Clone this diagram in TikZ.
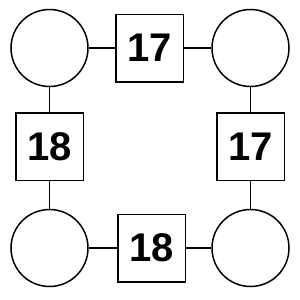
\documentclass[tikz,border=0pt]{standalone}
\usepackage{fontspec}
\setmainfont{Liberation Sans}
\begin{document}
\begin{tikzpicture}[x=1pt,y=-1pt,
  circ/.style={draw,circle,line width=1.5pt,minimum size=77pt,inner sep=0pt},
  sq/.style={draw,rectangle,line width=1.5pt,minimum size=67.5pt,inner sep=0pt,font=\fontsize{40}{40}\selectfont\bfseries},
  conn/.style={line width=1.5pt}]
\useasboundingbox (0,0) rectangle (300,300);
\node[circ] (tl) at (49.5,48) {};
\node[circ] (tr) at (250.5,48) {};
\node[circ] (bl) at (49.5,248) {};
\node[circ] (br) at (250.5,248) {};
\node[sq] (t) at (149.5,48) {17};
\node[sq] (l) at (49.5,146.5) {18};
\node[sq] (r) at (250.5,146.5) {17};
\node[sq] (b) at (151.5,248) {18};
\draw[conn] (tl) -- (t);
\draw[conn] (t) -- (tr);
\draw[conn] (tl) -- (l);
\draw[conn] (l) -- (bl);
\draw[conn] (tr) -- (r);
\draw[conn] (r) -- (br);
\draw[conn] (bl) -- (b);
\draw[conn] (b) -- (br);
\end{tikzpicture}
\end{document}
